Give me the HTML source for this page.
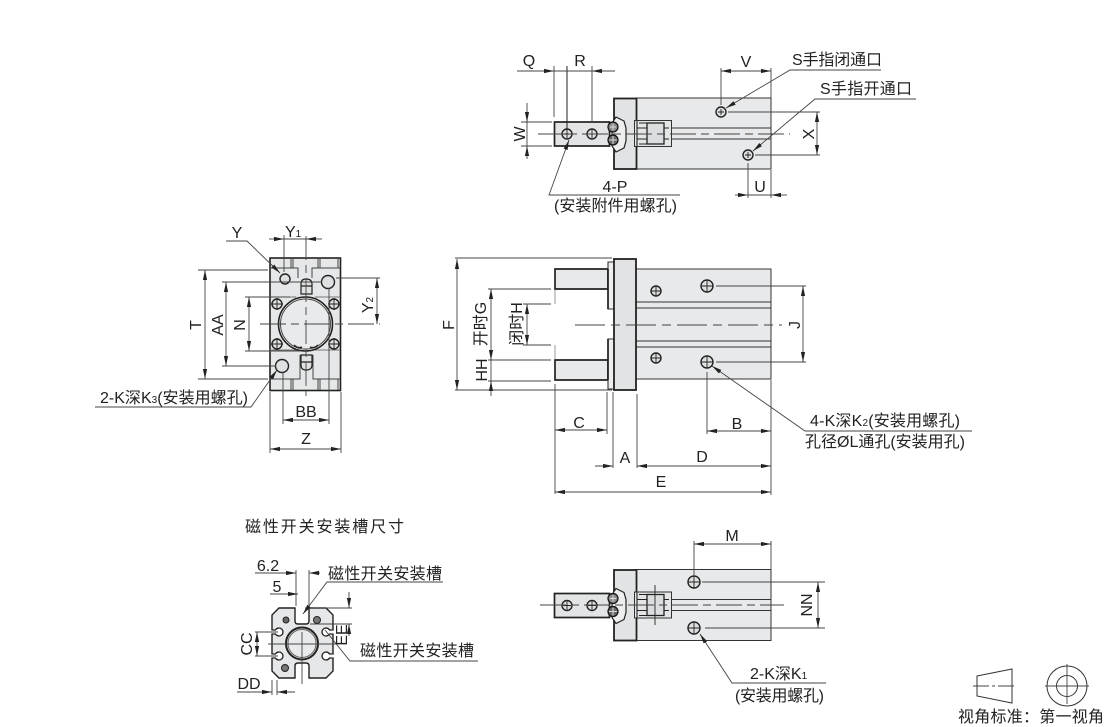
<!DOCTYPE html>
<html><head><meta charset="utf-8"><style>
html,body{margin:0;padding:0;background:#fff;width:1110px;height:727px;overflow:hidden}
svg{display:block}
text{font-family:"Liberation Sans","Noto Sans CJK SC",sans-serif;fill:#222;font-size:16px}
.d{stroke:#444;stroke-width:.9;fill:none}
.da{stroke:#444;stroke-width:.9;fill:none;marker-start:url(#as);marker-end:url(#ae)}
.h{fill:#dfe0e1;stroke:#222;stroke-width:1.4}
.c{stroke:#444;stroke-width:.9;fill:none;stroke-dasharray:26 5 8 5}
.b{fill:#e8e9ea;stroke:#333;stroke-width:1}
.x{stroke:#222;stroke-width:.9;fill:none}
.l{stroke:#444;stroke-width:1;fill:none}
</style></head><body>
<svg width="1110" height="727" viewBox="0 0 1110 727" xmlns="http://www.w3.org/2000/svg">
<defs>
<marker id="ae" markerWidth="11" markerHeight="6" refX="10" refY="3" orient="auto" markerUnits="userSpaceOnUse"><path d="M0 .9L10 3L0 5.1z" fill="#222"/></marker>
<marker id="as" markerWidth="11" markerHeight="6" refX="0" refY="3" orient="auto" markerUnits="userSpaceOnUse"><path d="M10 .9L0 3L10 5.1z" fill="#222"/></marker>
<g id="gr">
<rect x="636" y="98" width="135" height="71" class="b"/>
<rect x="614" y="98.500" width="22.500" height="70.500" fill="#e2e3e4" stroke="#222" stroke-width="1.800"/>
<path d="M672 128H771M672 139H771" stroke="#333" stroke-width="1"/>
<path d="M616 117L624 121L626 128V141L624 148L616 152L612 146V123Z" fill="#eeeeef" stroke="#222" stroke-width="1.200"/>
<rect x="634.500" y="120.500" width="37" height="26" fill="#e4e5e6" stroke="#333" stroke-width="1"/>
<rect x="647" y="123" width="17" height="21" fill="#dcdddf" stroke="#222" stroke-width="1.300"/>
<path d="M637 121V147M637 128H647M637 139H647M639 123H647M639 144H647M664 128H669M664 139H669" stroke="#222" fill="none" stroke-width="1.100"/>
<rect x="554.500" y="122" width="55" height="24" fill="#e3e4e5" stroke="#222" stroke-width="1.700"/>
<circle cx="613" cy="127" r="5" fill="#8a8a8a" stroke="#111" stroke-width="1.200"/>
<circle cx="613" cy="140" r="5" fill="#666" stroke="#111" stroke-width="1.200"/>
<path d="M610 127H616M613 124V130M609 140H617M613 136V144" stroke="#ddd" stroke-width="1"/>
<circle cx="567" cy="134" r="5" class="h"/><circle cx="592" cy="134" r="5" class="h"/>
<path d="M567 130V138M592 130V138M563 134H571M588 134H596" class="x"/>
</g>
</defs>

<!-- top view -->
<use href="#gr"/>
<circle cx="721" cy="112" r="5" class="h"/><circle cx="748" cy="155" r="5" class="h"/>
<path d="M721 109V115M718 112H724M748 152V158M745 155H751" class="x"/>
<path class="c" d="M538 134H790"/>
<path class="d" d="M554 66V117M592 66V122M721 68V105M771 68V98M521 122H552M521 146H552M728 112H820M755 155H820M748 163V198M771 170V198"/>
<path d="M567 66V130" stroke="#222" stroke-width="1"/>
<path class="d" d="M517 71H554" marker-end="url(#ae)"/><path class="d" d="M615 71H592" marker-end="url(#ae)"/><path d="M554 71H592" class="d"/>
<path class="da" d="M721 71H771"/>
<path class="d" d="M527 103V122" marker-end="url(#ae)"/><path class="d" d="M527 159V146" marker-end="url(#ae)"/><path class="d" d="M527 122V146"/>
<path class="da" d="M817 112V155"/>
<path class="d" d="M735 195H748" marker-end="url(#ae)"/><path class="d" d="M787 195H771" marker-end="url(#ae)"/><path class="d" d="M748 195H771"/>
<path class="d" d="M881 70H790L726 108" marker-end="url(#ae)"/><path class="d" d="M916 99H815L753 151" marker-end="url(#ae)"/>
<path class="d" d="M680 195H549L569 140" marker-end="url(#ae)"/>
<text x="529" y="66" text-anchor="middle">Q</text><text x="580" y="66" text-anchor="middle">R</text><text x="746" y="67" text-anchor="middle">V</text>
<text x="792" y="65" textLength="90">S手指闭通口</text><text x="820" y="94" textLength="92">S手指开通口</text>
<text transform="translate(525,134) rotate(-90)" text-anchor="middle">W</text>
<text transform="translate(814,134) rotate(-90)" text-anchor="middle">X</text>
<text x="760" y="192" text-anchor="middle">U</text>
<text x="615" y="192" text-anchor="middle">4-P</text>
<text x="554" y="211" textLength="123">(安装附件用螺孔)</text>

<!-- main view -->
<rect x="636" y="269" width="135" height="110" class="b"/>
<path d="M636 302H771M636 308H771M636 341H771M636 347H771" stroke="#333" stroke-width="1"/>
<path d="M555 269H608V289H555Z" fill="#e8e9ea" stroke="#222" stroke-width="1.700"/>
<path d="M555 360H608V380H555Z" fill="#e8e9ea" stroke="#222" stroke-width="1.700"/>
<path d="M608 262H614V309H608Z" fill="#eeeeef" stroke="#333" stroke-width="1.100"/>
<path d="M608 339H614V389H608Z" fill="#eeeeef" stroke="#333" stroke-width="1.100"/>
<path d="M608 269V309M608 339V380" stroke="#222" stroke-width="1.700"/>
<rect x="614" y="259" width="22" height="131" fill="#e2e3e4" stroke="#222" stroke-width="1.800"/>
<g class="h"><circle cx="707" cy="286" r="6"/><circle cx="656" cy="291" r="5"/><circle cx="656" cy="358" r="5"/><circle cx="707" cy="362" r="6"/></g>
<path d="M707 280V292M701 286H713M656 286V296M651 291H661M656 353V363M651 358H661M707 356V368M701 362H713" class="x"/>
<path class="c" d="M575 325H782" style="stroke-dasharray:30 6 9 6"/>
<path class="d" d="M555 289V304M555 345V360" stroke-opacity=".6"/>
<path class="d" d="M455 258H612M455 390H612M488 289H551M488 360H551M488 381H551M523 304H551M523 345H551M716 286H806M716 362H806M555 384V494M607 392V434M613 392V468M637 394V468M707 372V434M771 380V495"/>
<path class="da" d="M457 259V390"/><path class="da" d="M491 289V360"/><path class="d" d="M491 396V381" marker-end="url(#ae)"/><path class="d" d="M491 360V381"/>
<path class="da" d="M527 304V345"/><path class="da" d="M803 286V362"/>
<path class="da" d="M555 430H607"/><path class="da" d="M707 431H771"/>
<path class="d" d="M595 466H613" marker-end="url(#ae)"/><path class="da" d="M637 466H771"/>
<path class="da" d="M555 492H771"/>
<path class="d" d="M972 431H805L712 366" marker-end="url(#ae)"/>
<text transform="translate(454,325) rotate(-90)" text-anchor="middle">F</text>
<text transform="translate(486,324) rotate(-90)" text-anchor="middle">开时G</text>
<text transform="translate(522,324) rotate(-90)" text-anchor="middle">闭时H</text>
<text transform="translate(487,370) rotate(-90)" text-anchor="middle">HH</text>
<text transform="translate(800,325) rotate(-90)" text-anchor="middle">J</text>
<text x="579" y="428" text-anchor="middle">C</text><text x="737" y="429" text-anchor="middle">B</text>
<text x="625" y="463" text-anchor="middle">A</text><text x="702" y="462" text-anchor="middle">D</text><text x="661" y="487" text-anchor="middle">E</text>
<text x="810" y="426" textLength="150">4-K深K<tspan font-size="10">2</tspan>(安装用螺孔)</text>
<text x="805" y="447" textLength="160">孔径ØL通孔(安装用孔)</text>

<!-- side view -->
<rect x="270" y="258" width="70.500" height="132.500" fill="#e6e7e8" stroke="#222" stroke-width="1.600"/>
<path d="M291 258V268M293 258V268M318 258V268M320 258V268M338 258V268M291 390V379M293 390V379M318 390V379M320 390V379M338 390V379M270 268H298V278M312 278V268H340M270 379H300V355M313 355V379H340" class="l"/>
<path d="M270 297H296M315 297H340M270 350H296M315 350H340" stroke="#777" stroke-width=".9" fill="none"/>
<circle cx="305.500" cy="324" r="27" fill="#e9eaeb" stroke="#222" stroke-width="1.600"/>
<circle cx="305.500" cy="324" r="25" fill="#e9eaeb" stroke="#444" stroke-width="1"/>
<path d="M301 294V284Q301 279 306 279Q312 279 312 284V294ZM301 286H312" fill="#e0e1e2" stroke="#222" stroke-width="1.200"/>
<path d="M301 355V365Q301 370 306 370Q312 370 312 365V355ZM301 362H312" fill="#e0e1e2" stroke="#222" stroke-width="1.200"/>
<path d="M294 345Q298 349 302 347M310 347Q314 349 318 345" stroke="#222" stroke-width="1.500" fill="none"/>
<g class="h"><circle cx="285" cy="279" r="5"/><circle cx="328" cy="282" r="6.500"/><circle cx="282" cy="366" r="6.500"/><circle cx="277" cy="304" r="5"/><circle cx="334" cy="304" r="5"/><circle cx="277" cy="344" r="5"/><circle cx="334" cy="344" r="5"/></g>
<path d="M271 304H283M277 298V310M328 304H340M334 298V310M271 344H283M277 338V350M328 344H340M334 338V350" class="x"/>
<path class="c" d="M306 236V396" style="stroke-dasharray:24 5 8 5"/><path class="c" d="M260 324H380" style="stroke-dasharray:26 5 8 5"/>
<path class="d" d="M198 270H268M198 379H268M222 282H322M222 366H276M245 297H290M245 351H300M284 235V272M329 288V424M283 372V424M270 392V453M341 392V453M336 278H380"/>
<path class="da" d="M205 270V379"/><path class="da" d="M226 282V366"/><path class="da" d="M249 297V351"/><path class="da" d="M377 278V324"/>
<path class="d" d="M269 239H284" marker-end="url(#ae)"/><path class="d" d="M322 239H306" marker-end="url(#ae)"/><path class="d" d="M284 239H306"/>
<path class="da" d="M283 420H329"/><path class="da" d="M270 449H341"/>
<path class="d" d="M226 241H247L280 273" marker-end="url(#ae)"/>
<path class="d" d="M95 407H251L277 370" marker-end="url(#ae)"/>
<text x="237" y="238" text-anchor="middle">Y</text>
<text x="285" y="237">Y<tspan font-size="10">1</tspan></text>
<text transform="translate(373,305) rotate(-90)" text-anchor="middle">Y<tspan font-size="10">2</tspan></text>
<text transform="translate(201,325) rotate(-90)" text-anchor="middle">T</text>
<text transform="translate(223,325) rotate(-90)" text-anchor="middle">AA</text>
<text transform="translate(245,325) rotate(-90)" text-anchor="middle">N</text>
<text x="306" y="417" text-anchor="middle">BB</text><text x="306" y="444" text-anchor="middle">Z</text>
<text x="100" y="403" textLength="148">2-K深K<tspan font-size="10">3</tspan>(安装用螺孔)</text>

<!-- slot section -->
<text x="245" y="532" textLength="159">磁性开关安装槽尺寸</text>
<path d="M279 608H295V621Q295 624 298 624H306Q309 624 309 621V608H326L333 615V671L326 678H309V666Q309 663 306 663H298Q295 663 295 666V678H279L272 671V615Z" fill="#e6e7e8" stroke="#222" stroke-width="1.400"/>
<g fill="#fff" stroke="#222" stroke-width="1.300">
<path d="M271.500 630H275.500A4 4 0 1 1 275.500 634H271.500"/>
<path d="M271.500 654H275.500A4 4 0 1 1 275.500 658H271.500"/>
<path d="M333.500 630H329.500A4 4 0 1 0 329.500 634H333.500"/>
<path d="M333.500 654H329.500A4 4 0 1 0 329.500 658H333.500"/>
</g>
<path d="M271.500 630.800V633.200M271.500 654.800V657.200M333.500 630.800V633.200M333.500 654.800V657.200" stroke="#fff" stroke-width="2.500"/>
<circle cx="302" cy="643.500" r="16" fill="#e9eaeb" stroke="#222" stroke-width="2"/><circle cx="302" cy="643.500" r="14" fill="#e9eaeb" stroke="#666"/>
<circle cx="286" cy="620" r="3" fill="#666" stroke="#222"/><circle cx="317" cy="620" r="3.500" fill="#777" stroke="#222"/><circle cx="285" cy="668" r="3.500" fill="#777" stroke="#222"/>
<path class="d" d="M268 644H336M302 632V684M296 570V606M309 570V606M305 608H352M310 624H352M255 632H278M255 656H278M272 680V695M277 680V695"/>
<path class="d" d="M255 573H296" marker-end="url(#ae)"/><path class="d" d="M320 573H309" marker-end="url(#ae)"/>
<path class="d" d="M270 594H298" marker-end="url(#ae)"/>
<path class="d" d="M443 582H327L303 614" marker-end="url(#ae)"/>
<path class="d" d="M349 592V608" marker-end="url(#ae)"/><path class="d" d="M349 636V624" marker-end="url(#ae)"/>
<path class="d" d="M478 661H350L325 630"/>
<path class="da" d="M257 632V656"/>
<path class="d" d="M237 692H272" marker-end="url(#ae)"/><path class="d" d="M295 692H277" marker-end="url(#ae)"/>
<text x="268" y="571" text-anchor="middle">6.2</text><text x="277" y="592" text-anchor="middle">5</text>
<text x="328" y="579" textLength="114">磁性开关安装槽</text><text x="360" y="656" textLength="114">磁性开关安装槽</text>
<text transform="translate(347,635) rotate(-90)" text-anchor="middle">EE</text>
<text transform="translate(252,644) rotate(-90)" text-anchor="middle">CC</text>
<text x="249" y="689" text-anchor="middle">DD</text>

<!-- bottom view -->
<use href="#gr" y="471.500"/>
<g class="h"><circle cx="694" cy="582" r="6"/><circle cx="694" cy="628" r="6"/></g>
<path d="M694 576V588M688 582H700M694 622V634M688 628H700" class="x"/>
<path class="c" d="M540 605H784"/>
<path d="M655 585V625" class="x"/>
<path class="d" d="M694 541V575M771 541V570M702 582H825M705 628H825"/>
<path class="da" d="M694 544H771"/><path class="da" d="M818 582V628"/>
<path class="d" d="M826 683H732L700 634" marker-end="url(#ae)"/>
<text x="732" y="541" text-anchor="middle">M</text>
<text transform="translate(812,605) rotate(-90)" text-anchor="middle">NN</text>
<text x="750" y="679">2-K深K<tspan font-size="10">1</tspan></text>
<text x="735" y="701" textLength="89">(安装用螺孔)</text>

<!-- projection -->
<path d="M977 676L1012 669V703L977 696Z" fill="none" stroke="#333" stroke-width="1"/>
<path class="d" d="M973 686H1016" style="stroke-dasharray:16 3 3 3"/>
<circle cx="1067" cy="686" r="20" fill="none" stroke="#333"/><circle cx="1067" cy="686" r="10.500" fill="none" stroke="#333"/>
<path class="d" d="M1045 686H1089M1067 664V704"/>
<text x="958" y="722" textLength="146">视角标准：第一视角</text>
</svg>
</body></html>
